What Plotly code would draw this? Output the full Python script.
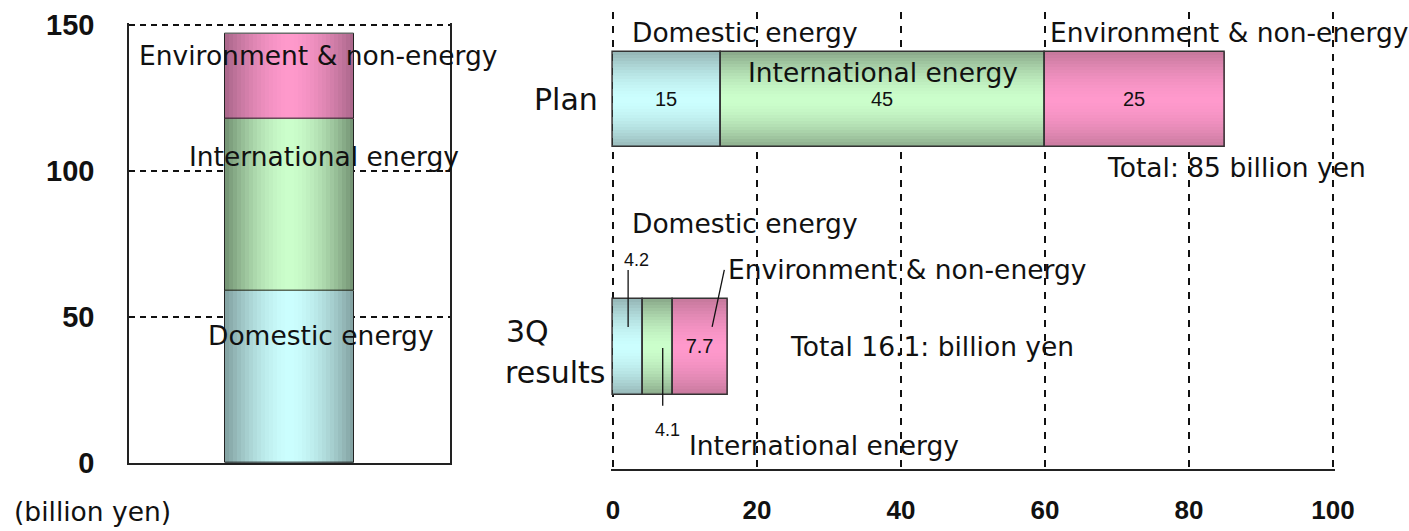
import plotly.graph_objects as go

# ---- data (billion yen) ----
segments = ["Domestic energy", "International energy", "Environment & non-energy"]
total_values = [59, 59, 29]          # stacked column on the left

bar_rows = ["3Q results", "Plan"]    # horizontal bars, bottom to top
plan_values = [15, 45, 25]
results_values = [4.2, 4.1, 7.7]
plan_total = 85
results_total = 16.1

x_ticks = [0, 20, 40, 60, 80, 100]
y_ticks = [0, 50, 100, 150]

# ---- styling ----
center_colors = ["#CCFFFF", "#CCFFCC", "#FF99CC"]
edge_left = ["#84A4A4", "#769676", "#AC688C"]
edge_right = ["#97B9B9", "#8CAC8C", "#C87A9E"]
LABEL_FONT = dict(family="DejaVu Sans", size=26.5, color="#111111")
VALUE_FONT = dict(family="Liberation Sans Narrow, Liberation Sans", size=20, color="#111111")
N_LAYERS = 16
COL_WIDTH = 0.4
ROW_WIDTH = 0.385


def hex_rgb(c):
    c = c.lstrip("#")
    return tuple(int(c[i:i + 2], 16) for i in (0, 2, 4))


def mix(c1, c2, t):
    a, b = hex_rgb(c1), hex_rgb(c2)
    return "rgb({},{},{})".format(*[round(a[i] + (b[i] - a[i]) * t) for i in range(3)])


def cumulative(vals):
    out, s = [], 0
    for v in vals:
        out.append(s)
        s += v
    return out


fig = go.Figure()

# ---- left: stacked column, shaded as a cylinder by layering narrower bars ----
left_bases = cumulative(total_values)
for i, seg in enumerate(segments):
    for k in range(N_LAYERS):
        f = 1 - k / N_LAYERS
        t = 1 - f ** 1.7
        fig.add_trace(go.Bar(
            x=[0.5], y=[total_values[i]], base=[left_bases[i]], width=[COL_WIDTH * f],
            marker=dict(color=mix(edge_left[i], center_colors[i], t), line=dict(width=0)),
            xaxis="x", yaxis="y", showlegend=False, hoverinfo="skip"))
    fig.add_trace(go.Bar(
        x=[0.5], y=[total_values[i]], base=[left_bases[i]], width=[COL_WIDTH],
        marker=dict(color="rgba(0,0,0,0)", line=dict(color="#222222", width=1)),
        xaxis="x", yaxis="y", showlegend=False, name=seg, hoverinfo="skip"))

# ---- right: horizontal stacked bars for Plan and 3Q results ----
plan_bases = cumulative(plan_values)
res_bases = cumulative(results_values)
inside_text = [["", f"{plan_values[0]:g}"],
               ["", f"{plan_values[1]:g}"],
               [f"{results_values[2]:g}", f"{plan_values[2]:g}"]]
for i, seg in enumerate(segments):
    xs = [results_values[i], plan_values[i]]
    bs = [res_bases[i], plan_bases[i]]
    for k in range(N_LAYERS):
        f = 1 - k / N_LAYERS
        t = 1 - f ** 1.7
        fig.add_trace(go.Bar(
            x=xs, y=bar_rows, base=bs, orientation="h", width=[ROW_WIDTH * f] * 2,
            marker=dict(color=mix(edge_right[i], center_colors[i], t), line=dict(width=0)),
            xaxis="x2", yaxis="y2", showlegend=False, hoverinfo="skip"))
    fig.add_trace(go.Bar(
        x=xs, y=bar_rows, base=bs, orientation="h", width=[ROW_WIDTH] * 2,
        marker=dict(color="rgba(0,0,0,0)", line=dict(color="#333333", width=1.5)),
        text=inside_text[i], textposition="inside", insidetextanchor="middle",
        textangle=0, insidetextfont=VALUE_FONT,
        xaxis="x2", yaxis="y2", showlegend=False, name=seg, hoverinfo="skip"))

# ---- axes ----
W, H = 1409, 531
# pixel frame of each panel; ranges are padded a little so the end grid lines show
L_PX = 2.92          # px per billion yen, left column
R_PX = 7.2           # px per billion yen, horizontal bars
y_pad = 0.8
x_pad = 0.3
fig.update_layout(
    width=W, height=H, margin=dict(l=0, r=0, t=0, b=0, autoexpand=False),
    paper_bgcolor="white", plot_bgcolor="rgba(0,0,0,0)",
    barmode="overlay", bargap=0,
    xaxis=dict(domain=[129 / W, 450 / W], range=[0, 1], showticklabels=False,
               showgrid=False, zeroline=False, showline=True, linecolor="#222222",
               linewidth=1.5, ticks="", fixedrange=True, automargin=False),
    yaxis=dict(domain=[(H - 463) / H, (H - 25 + y_pad * L_PX) / H],
               range=[0, 150 + y_pad], tickvals=y_ticks,
               showgrid=True, gridcolor="#111111", gridwidth=2, griddash="6px,5px",
               zeroline=False, showline=True, mirror=True, linecolor="#222222",
               linewidth=1.5, ticks="", ticklabelstandoff=27, automargin=False,
               tickfont=dict(family="Liberation Sans", size=29, color="#111111",
                             weight="bold")),
    xaxis2=dict(domain=[(613 - x_pad * R_PX) / W, (1333 + x_pad * R_PX) / W],
                range=[-x_pad, 100 + x_pad], tickvals=x_ticks,
                anchor="y2", showgrid=True, gridcolor="#111111", gridwidth=2,
                griddash="7px,7px", zeroline=False, showline=True,
                linecolor="#222222", linewidth=2, ticks="", ticklabelstandoff=17,
                automargin=False,
                tickfont=dict(family="Liberation Sans Narrow, Liberation Sans", size=26,
                              color="#111111", weight="bold")),
    yaxis2=dict(domain=[(H - 469) / H, (H - 12) / H], range=[-0.494, 1.356],
                anchor="x2", type="category", categoryorder="array",
                categoryarray=bar_rows, showticklabels=False, showgrid=False,
                zeroline=False, showline=False, ticks="", automargin=False),
)

# ---- labels ----
ann = []


def label(text, x, y, xref, yref, xanchor="center", font=LABEL_FONT, align="center"):
    ann.append(dict(text=text, x=x, y=y, xref=xref, yref=yref, xanchor=xanchor,
                    yanchor="middle", showarrow=False, font=font, align=align))


# left column
label(segments[2], 0.589, 139.7, "x", "y")
label(segments[1], 0.607, 104.8, "x", "y")
label(segments[0], 0.598, 43.5, "x", "y")
label("(billion yen)", 12 / W, 1 - 511 / H, "paper", "paper", xanchor="left")

# row names
ROW_FONT = dict(family="DejaVu Sans", size=30, color="#111111")
label("Plan", 600 / W, "Plan", "paper", "y2", xanchor="right", font=ROW_FONT)
label("3Q", 504 / W, 1 - 331 / H, "paper", "paper", xanchor="left", font=ROW_FONT)
label("results", 503 / W, 1 - 372 / H, "paper", "paper", xanchor="left", font=ROW_FONT)

# Plan bar
label(segments[0], 2.4, 1.275, "x2", "y2", xanchor="left")
label(segments[1], 18.5, 1.113, "x2", "y2", xanchor="left")
label(segments[2], 60.4, 1.275, "x2", "y2", xanchor="left")
label(f"Total: {plan_total:g} billion yen", 68.4, 0.725, "x2", "y2", xanchor="left")

# 3Q results bar
label(segments[0], 2.4, 0.498, "x2", "y2", xanchor="left")
label(segments[2], 15.7, 0.312, "x2", "y2", xanchor="left")
label(f"Total {results_total:g}: billion yen", 24.3, 0.0, "x2", "y2", xanchor="left")
label(segments[1], 10.3, -0.397, "x2", "y2", xanchor="left")
small = dict(family="Liberation Sans Narrow, Liberation Sans", size=18, color="#111111")
label(f"{results_values[0]:g}", 3.3, 0.352, "x2", "y2", font=small)
label(f"{results_values[1]:g}", 7.5, -0.336, "x2", "y2", font=small)

fig.update_layout(annotations=ann)

# leader lines from small value labels into their segments
leaders = [
    (res_bases[0] + results_values[0] * 0.5, 0.312, res_bases[0] + results_values[0] * 0.5, 0.081),
    (res_bases[1] + results_values[1] * 0.66, -0.004, res_bases[1] + results_values[1] * 0.66, -0.238),
    (res_bases[2] + results_values[2] * 0.93, 0.312, res_bases[2] + results_values[2] * 0.71, 0.081),
]
fig.update_layout(shapes=[
    dict(type="line", xref="x2", yref="y2", x0=a, y0=b, x1=c, y1=d,
         line=dict(color="#111111", width=1.3), layer="above")
    for a, b, c, d in leaders
])

fig.write_html("out.html")
